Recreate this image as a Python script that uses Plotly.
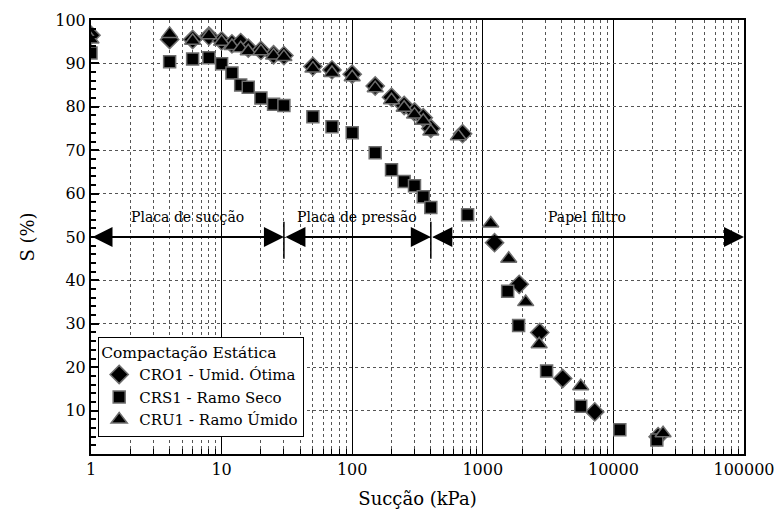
import math
import plotly.graph_objects as go

# ---------------- data ----------------
cro1_x = [1, 4, 6, 8, 10, 12, 14, 16, 20, 25, 30, 50, 70, 100, 150, 200, 250, 300, 350, 400, 700,
          1230, 1900, 2730, 4090, 7200, 22000]
cro1_s = [96.5, 95.5, 95.5, 96.3, 95.2, 94.5, 94.8, 93.5, 93.0, 92.0, 91.8, 89.3, 88.5, 87.5, 84.8,
          82.2, 80.3, 78.8, 77.5, 75.0, 73.8, 48.7, 39.1, 28.0, 17.4, 9.7, 4.0]

crs1_x = [1, 4, 6, 8, 10, 12, 14, 16, 20, 25, 30, 50, 70, 100, 150, 200, 250, 300, 350, 400, 765,
          1550, 1880, 3080, 5620, 11200, 21500]
crs1_s = [92.4, 90.4, 91.0, 91.3, 89.9, 87.8, 85.0, 84.5, 82.0, 80.6, 80.3, 77.7, 75.4, 74.0, 69.4,
          65.5, 62.8, 61.8, 59.3, 56.8, 55.1, 37.5, 29.6, 19.1, 11.0, 5.6, 3.2]

cru1_x = [1, 4, 6, 8, 10, 12, 14, 16, 20, 25, 30, 50, 70, 100, 150, 200, 250, 300, 350, 400, 650,
          1150, 1580, 2130, 2700, 5620, 24000]
cru1_s = [95.5, 96.8, 95.2, 96.5, 95.0, 94.0, 93.5, 92.8, 92.8, 91.8, 91.5, 88.8, 87.8, 86.8, 84.3,
          81.5, 79.8, 78.2, 76.8, 74.3, 73.2, 53.1, 45.0, 35.0, 25.3, 15.6, 4.8]

series_names = ["CRO1 - Umid. Ótima", "CRS1 - Ramo Seco", "CRU1 - Ramo Úmido"]
legend_title = "Compactação Estática"

region_labels = ["Placa de sucção", "Placa de pressão", "Papel filtro"]
region_bounds = [1, 30, 400, 100000]   # kPa
region_label_s = 54.5
arrow_s = 50
sep_s = [45, 53.5]

x_ticks = [1, 10, 100, 1000, 10000, 100000]
x_ticktext = ["1", "10", "100", "1000", "10000", "100000"]
y_ticks = [10, 20, 30, 40, 50, 60, 70, 80, 90, 100]

FONT = "DejaVu Serif"

fig = go.Figure()

symbols = ["diamond", "square", "triangle-up"]
sizes = [14, 12, 14]
for xs, ss, name, sym, sz in zip([cro1_x, crs1_x, cru1_x], [cro1_s, crs1_s, cru1_s],
                                 series_names, symbols, sizes):
    fig.add_trace(go.Scatter(
        x=xs, y=ss, mode="markers", name=name,
        marker=dict(symbol=sym, size=sz, color="black",
                    line=dict(color="#6e6e6e", width=1.5)),
    ))

# region arrows
annotations = []
for i in range(3):
    a, b = region_bounds[i], region_bounds[i + 1]
    annotations.append(dict(
        x=math.log10(b), y=arrow_s, ax=math.log10(a), ay=arrow_s,
        xref="x", yref="y", axref="x", ayref="y",
        text="", showarrow=True, arrowhead=2, startarrowhead=2,
        arrowside="end+start", arrowsize=2, startarrowsize=2,
        arrowwidth=2, arrowcolor="black", standoff=0, startstandoff=0,
    ))
    annotations.append(dict(
        x=(math.log10(a) + math.log10(b)) / 2, y=region_label_s,
        xref="x", yref="y", text=region_labels[i], showarrow=False,
        font=dict(family=FONT, size=14, color="black"),
    ))
fig.update_layout(annotations=annotations)

for xb in region_bounds[1:3]:
    fig.add_shape(type="line", x0=xb, x1=xb, y0=sep_s[0], y1=sep_s[1],
                  xref="x", yref="y", line=dict(color="black", width=1.5))

fig.update_xaxes(
    type="log", range=[0, 5], automargin=False,
    tickvals=x_ticks, ticktext=x_ticktext,
    ticks="inside", ticklen=8, tickwidth=1, tickcolor="black",
    showline=True, linewidth=2, linecolor="black", mirror=True,
    showgrid=True, gridcolor="black", gridwidth=1,
    minor=dict(dtick="D1", ticks="inside", ticklen=5, tickcolor="black",
               showgrid=True, gridcolor="#555555", griddash="dot", gridwidth=1),
    tickfont=dict(family=FONT, size=16, color="black"),
    title=dict(text="Sucção (kPa)", font=dict(family=FONT, size=18, color="black"), standoff=14),
    zeroline=False,
)
fig.update_yaxes(
    range=[0, 100], tickvals=y_ticks, automargin=False,
    ticks="inside", ticklen=8, tickwidth=1.5, tickcolor="black",
    showline=True, linewidth=2, linecolor="black", mirror=True,
    showgrid=True, gridcolor="#555555", griddash="dot", gridwidth=1,
    minor=dict(dtick=2, ticks="inside", ticklen=5, tickcolor="black", showgrid=False),
    tickfont=dict(family=FONT, size=16, color="black"),
    title=dict(text="S (%)", font=dict(family=FONT, size=18, color="black"), standoff=16),
    zeroline=False,
)

fig.update_layout(
    width=777, height=524,
    margin=dict(l=91, r=33, t=20, b=70),
    paper_bgcolor="white", plot_bgcolor="white",
    font=dict(family=FONT, color="black"),
    showlegend=True,
    legend=dict(
        x=0.011, y=0.039, xanchor="left", yanchor="bottom",
        bgcolor="white", bordercolor="black", borderwidth=1,
        font=dict(family=FONT, size=15, color="black"),
        title=dict(text=legend_title, font=dict(family=FONT, size=15.5, color="black")),
        tracegroupgap=0,
    ),
)

fig.write_html("out.html")
